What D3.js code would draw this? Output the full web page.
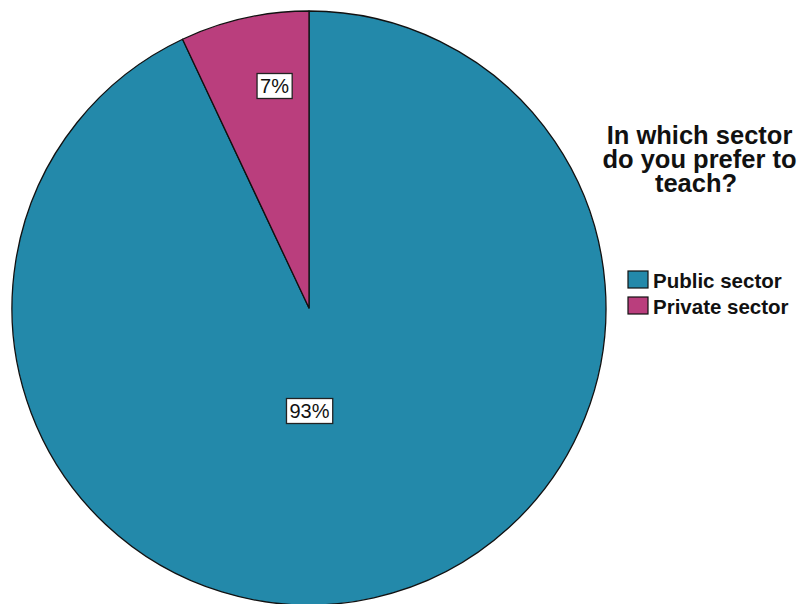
<!DOCTYPE html>
<html>
<head>
<meta charset="utf-8">
<script src="https://cdn.jsdelivr.net/npm/d3@7"></script>
<style>
  html, body { margin: 0; padding: 0; background: #fff; }
  svg { display: block; }
</style>
</head>
<body>
<svg id="chart" width="798" height="604"></svg>
<script>
// Survey responses: preferred teaching sector (percent of respondents)
const categories = ["Public sector", "Private sector"];
const values = [93, 7];
const colors = ["#2389AA", "#BA3E7D"];
const legendTitle = ["In which sector", "do you prefer to", "teach?"];

const svg = d3.select("#chart");
const cx = 309, cy = 308, radius = 297;

const color = d3.scaleOrdinal().domain(categories).range(colors);

// Public sector runs clockwise from 12 o'clock; private fills the rest
const pie = d3.pie().sort(null).value(d => d.value);
const data = categories.map((c, i) => ({ name: c, value: values[i] }));
const arcs = pie(data);

const arc = d3.arc().innerRadius(0).outerRadius(radius);

const g = svg.append("g").attr("transform", `translate(${cx},${cy})`);

g.selectAll("path.slice")
  .data(arcs)
  .join("path")
  .attr("class", "slice")
  .attr("d", arc)
  .attr("fill", d => color(d.data.name))
  .attr("stroke", "#111")
  .attr("stroke-width", 1.3)
  .attr("stroke-linejoin", "round");

// Percentage labels in boxed callouts
const labels = g.selectAll("g.lbl")
  .data(arcs)
  .join("g")
  .attr("class", "lbl")
  .attr("transform", d => {
    const p = d.data.value > 50 ? [0.5, 103] : [-34.5, -222];
    return `translate(${p[0]},${p[1]})`;
  });

labels.each(function(d) {
  const sel = d3.select(this);
  const t = sel.append("text")
    .attr("text-anchor", "middle")
    .attr("dy", "0.36em")
    .attr("font-family", "'Liberation Sans', Arial, sans-serif")
    .attr("font-size", 20)
    .attr("fill", "#111")
    .text(d.data.value + "%");
  const bb = t.node().getBBox();
  sel.insert("rect", "text")
    .attr("x", bb.x - 3)
    .attr("y", -12.5)
    .attr("width", bb.width + 6)
    .attr("height", 25)
    .attr("fill", "#fff")
    .attr("stroke", "#222")
    .attr("stroke-width", 1.3);
});

// Legend title, one text per line
svg.append("g")
  .selectAll("text")
  .data(legendTitle)
  .join("text")
  .attr("text-anchor", "middle")
  .attr("x", (d, i) => i === 2 ? 696 : 699.5)
  .attr("y", (d, i) => 144 + i * 24)
  .attr("font-family", "'Liberation Sans', Arial, sans-serif")
  .attr("font-weight", "bold")
  .attr("font-size", 25.5)
  .attr("fill", "#111")
  .text(d => d);

// Legend entries
const legend = svg.append("g").attr("transform", "translate(628,271)");
const item = legend.selectAll("g.item")
  .data(categories)
  .join("g")
  .attr("class", "item")
  .attr("transform", (d, i) => `translate(0,${i * 26})`);

item.append("rect")
  .attr("width", 20)
  .attr("height", 17)
  .attr("fill", d => color(d))
  .attr("stroke", "#111")
  .attr("stroke-width", 1.2);

item.append("text")
  .attr("x", 25)
  .attr("y", 16.5)
  .attr("font-family", "'Liberation Sans', Arial, sans-serif")
  .attr("font-weight", "bold")
  .attr("font-size", 20.5)
  .attr("fill", "#111")
  .text(d => d);
</script>
</body>
</html>
